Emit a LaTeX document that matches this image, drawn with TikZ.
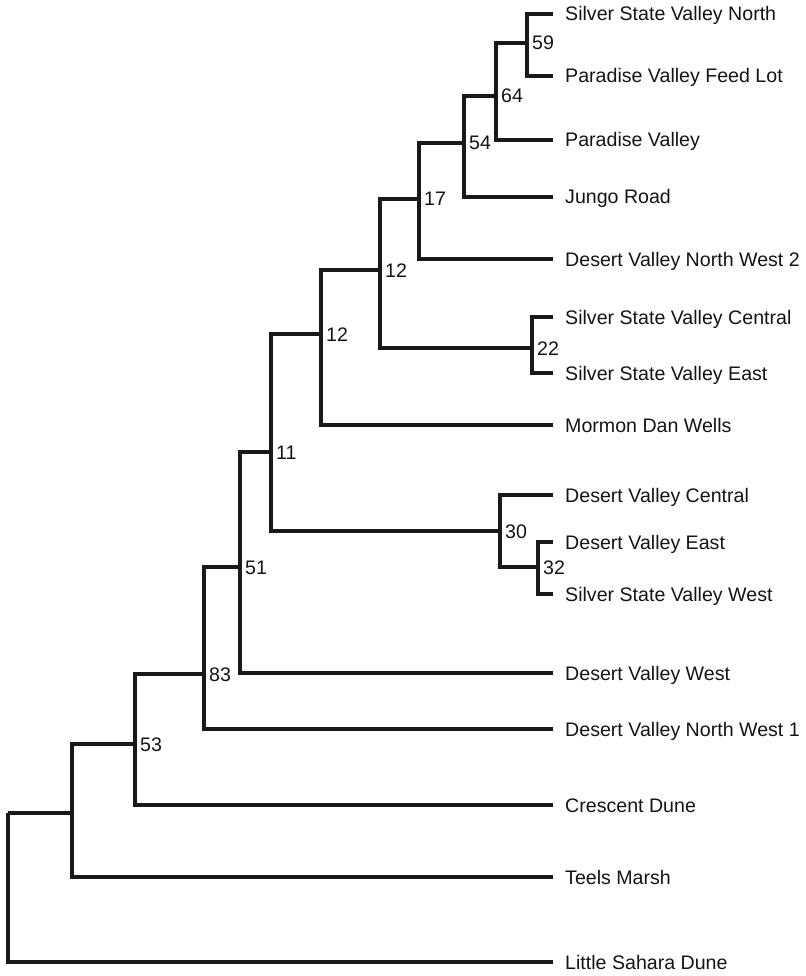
\documentclass[tikz,border=0pt]{standalone}
\usepackage{fontspec}
\setmainfont{Liberation Sans}
\usepackage{tikz}
\usetikzlibrary{positioning}

\begin{document}
\begin{tikzpicture}[
    x=1pt, y=-1pt,
    branch/.style={line width=3.4pt, draw=black!90},
    taxon/.style={anchor=west, inner xsep=12pt, inner ysep=0pt, text height=14pt, text depth=0pt, text=black!92, font=\fontsize{19.6}{23}\selectfont},
    support/.style={anchor=west, inner xsep=5pt, inner ysep=0pt, text height=14pt, text depth=0pt, text=black!92, font=\fontsize{19.6}{23}\selectfont}
]
    \useasboundingbox (0,0) rectangle (805,976);

    \node[taxon] (ssvn) at (553,14) {Silver State Valley North};
    \node[taxon] (pvfl) at (553,76) {Paradise Valley Feed Lot};
    \node[taxon] (pv) at (553,140) {Paradise Valley};
    \node[taxon] (jungo) at (553,197) {Jungo Road};
    \node[taxon] (dvnw2) at (553,259) {Desert Valley North West 2};
    \node[taxon] (ssvc) at (553,317) {Silver State Valley Central};
    \node[taxon] (ssve) at (553,373) {Silver State Valley East};
    \node[taxon] (mdw) at (553,425) {Mormon Dan Wells};
    \node[taxon] (dvc) at (553,495) {Desert Valley Central};
    \node[taxon] (dve) at (553,542) {Desert Valley East};
    \node[taxon] (ssvw) at (553,594) {Silver State Valley West};
    \node[taxon] (dvw) at (553,673) {Desert Valley West};
    \node[taxon] (dvnw1) at (553,729) {Desert Valley North West 1};
    \node[taxon] (cd) at (553,805) {Crescent Dune};
    \node[taxon] (tm) at (553,877) {Teels Marsh};
    \node[taxon] (lsd) at (553,962) {Little Sahara Dune};

    \coordinate (n59) at (527,43);
    \coordinate (n64) at (496,96);
    \coordinate (n54) at (464,143);
    \coordinate (n17) at (419,199);
    \coordinate (n12a) at (380,270);
    \coordinate (n22) at (532,348);
    \coordinate (n12b) at (321,334);
    \coordinate (n11) at (271,452);
    \coordinate (n30) at (500,531);
    \coordinate (n32) at (538,567);
    \coordinate (n51) at (240,567);
    \coordinate (n83) at (204,674);
    \coordinate (n53) at (135,744);
    \coordinate (nu) at (72,813);
    \coordinate (root) at (8,813);

    \draw[branch] (n59) |- (ssvn.west);
    \draw[branch] (n59) |- (pvfl.west);
    \draw[branch] (n64) |- (n59);
    \draw[branch] (n64) |- (pv.west);
    \draw[branch] (n54) |- (n64);
    \draw[branch] (n54) |- (jungo.west);
    \draw[branch] (n17) |- (n54);
    \draw[branch] (n17) |- (dvnw2.west);
    \draw[branch] (n22) |- (ssvc.west);
    \draw[branch] (n22) |- (ssve.west);
    \draw[branch] (n12a) |- (n17);
    \draw[branch] (n12a) |- (n22);
    \draw[branch] (n12b) |- (n12a);
    \draw[branch] (n12b) |- (mdw.west);
    \draw[branch] (n32) |- (dve.west);
    \draw[branch] (n32) |- (ssvw.west);
    \draw[branch] (n30) |- (dvc.west);
    \draw[branch] (n30) |- (n32);
    \draw[branch] (n11) |- (n12b);
    \draw[branch] (n11) |- (n30);
    \draw[branch] (n51) |- (n11);
    \draw[branch] (n51) |- (dvw.west);
    \draw[branch] (n83) |- (n51);
    \draw[branch] (n83) |- (dvnw1.west);
    \draw[branch] (n53) |- (n83);
    \draw[branch] (n53) |- (cd.west);
    \draw[branch] (nu) |- (n53);
    \draw[branch] (nu) |- (tm.west);
    \draw[branch] (root) |- (nu);
    \draw[branch] (root) |- (lsd.west);

    \node[support] (b59) at (n59) {59};
    \node[support] (b64) at (n64) {64};
    \node[support] (b54) at (n54) {54};
    \node[support] (b17) at (n17) {17};
    \node[support] (b12a) at (n12a) {12};
    \node[support] (b22) at (n22) {22};
    \node[support] (b12b) at (n12b) {12};
    \node[support] (b11) at (n11) {11};
    \node[support] (b30) at (n30) {30};
    \node[support] (b32) at (n32) {32};
    \node[support] (b51) at (n51) {51};
    \node[support] (b83) at (n83) {83};
    \node[support] (b53) at (n53) {53};
\end{tikzpicture}
\end{document}
